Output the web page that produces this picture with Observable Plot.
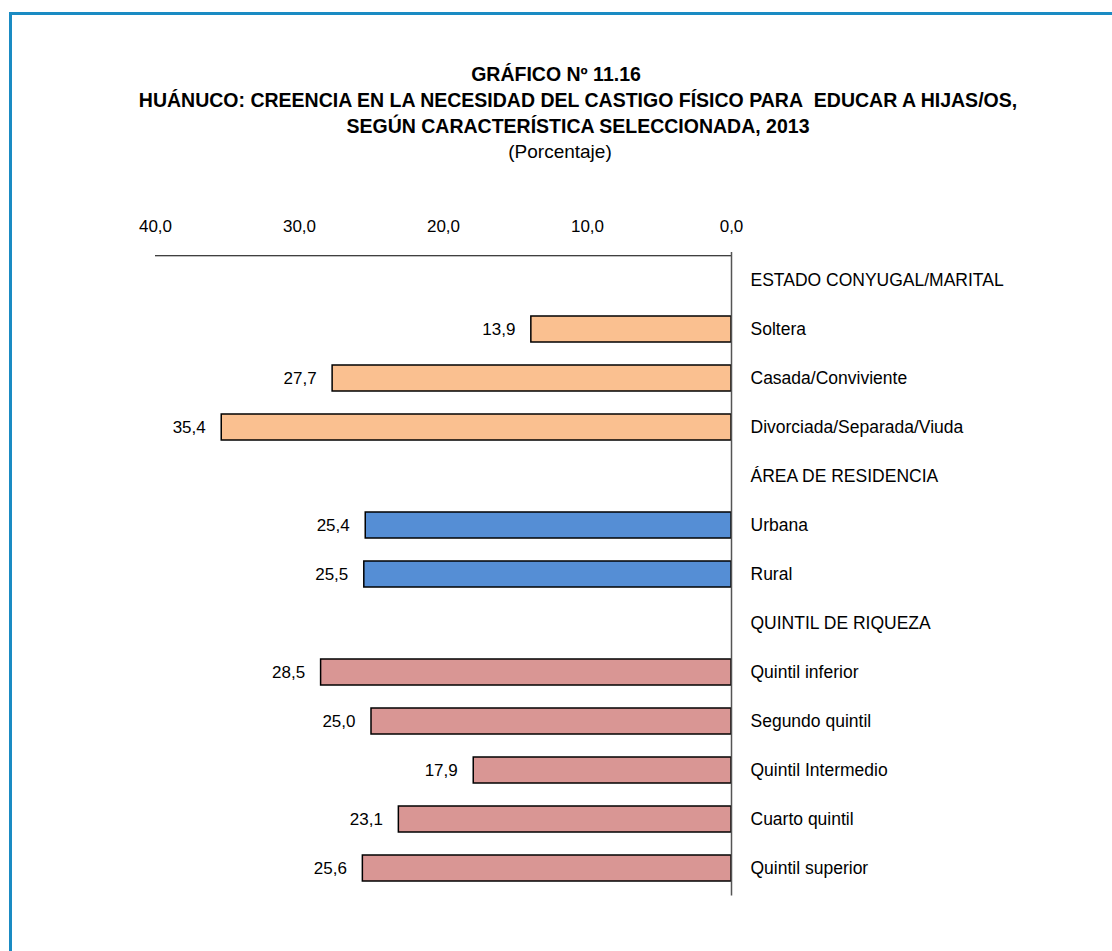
<!DOCTYPE html>
<html><head><meta charset="utf-8">
<script src="https://cdn.jsdelivr.net/npm/d3@7"></script>
<script src="https://cdn.jsdelivr.net/npm/@observablehq/plot@0.6"></script>
<style>
body{margin:0;background:#fff;}
#wrap{position:relative;width:1112px;height:951px;overflow:hidden;font-family:"Liberation Sans Narrow","Arial Narrow","Liberation Sans",sans-serif;}
#border{position:absolute;left:9px;top:12px;width:1200px;height:1200px;border:3px solid #1a8bc3;box-sizing:border-box;}
.t{position:absolute;left:0;width:1112px;text-align:center;color:#000;}
.b{font-weight:bold;font-size:19.5px;}
#chart{position:absolute;left:0;top:0;}
</style></head>
<body><div id="wrap"><div id="border"></div>
<div class="t b" style="top:63px">GRÁFICO Nº 11.16</div>
<div class="t b" style="top:89px;left:22px">HUÁNUCO: CREENCIA EN LA NECESIDAD DEL CASTIGO FÍSICO PARA&nbsp; EDUCAR A HIJAS/OS,</div>
<div class="t b" style="top:115px;left:22px">SEGÚN CARACTERÍSTICA SELECCIONADA, 2013</div>
<div class="t" style="top:141px;font-size:19px;left:4px">(Porcentaje)</div>
<div id="chart"></div></div>
<script>
const categories = ["ESTADO CONYUGAL/MARITAL","Soltera","Casada/Conviviente","Divorciada/Separada/Viuda","ÁREA DE RESIDENCIA","Urbana","Rural","QUINTIL DE RIQUEZA","Quintil inferior","Segundo quintil","Quintil Intermedio","Cuarto quintil","Quintil superior"];
const values = [null,13.9,27.7,35.4,null,25.4,25.5,null,28.5,25.0,17.9,23.1,25.6];
const groups = [null,"estado","estado","estado",null,"area","area",null,"quintil","quintil","quintil","quintil","quintil"];
const groupColors = {estado:"#FAC090", area:"#558ED5", quintil:"#D99694"};
const xTicks = [40,30,20,10,0];

const rows = categories.map((c,i)=>({cat:c, v:values[i], g:groups[i]}));
const bars = rows.filter(d=>d.v!=null);
const fmt = v => v.toFixed(1).replace(".",",");

const chart = Plot.plot({
  width:1112, height:951,
  marginTop:252, marginBottom:55.5, marginLeft:155, marginRight:381,
  style:{fontFamily:'"Liberation Sans Narrow","Arial Narrow","Liberation Sans",sans-serif', fontSize:"17px", color:"#000", background:"transparent"},
  x:{domain:[40,0], range:[155,731], label:null},
  y:{domain:categories, paddingInner:0.47, paddingOuter:0.235, axis:null},
  marks:[
    Plot.axisX(xTicks,{anchor:"top", tickSize:0, tickPadding:21, tickFormat:fmt, fontSize:17, label:null}),
    Plot.barX(bars,{x1:0, x2:"v", y:"cat", fill:d=>groupColors[d.g], stroke:"#000", strokeWidth:1.5}),
    Plot.ruleY([categories[0]],{y:d=>d, x1:40, x2:0, dy:-24.75, stroke:"#000", strokeWidth:1.2}),
    Plot.ruleX([0],{stroke:"#555", strokeWidth:1.5}),
    Plot.text(bars,{x:"v", y:"cat", text:d=>fmt(d.v), textAnchor:"end", dx:-16, fontSize:17}),
    Plot.text(rows,{x:0, y:"cat", text:"cat", textAnchor:"start", dx:19, fontSize:17.5})
  ]
});
document.getElementById("chart").appendChild(chart);
</script></body></html>
